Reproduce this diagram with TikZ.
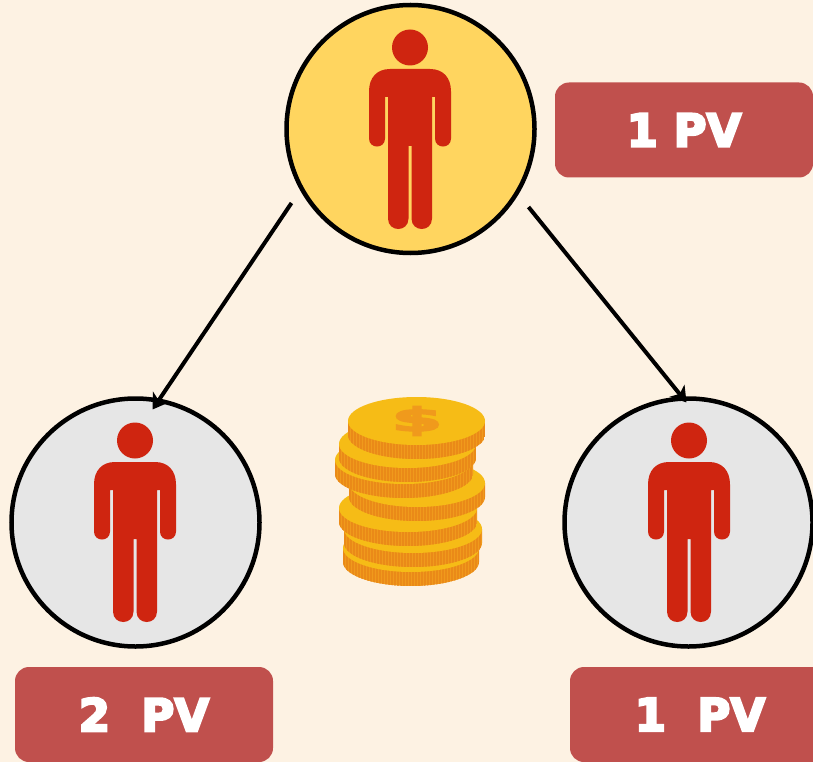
\documentclass[tikz,border=0pt]{standalone}
\usepackage{fontspec}
\setmainfont{DejaVu Sans}
\newfontfamily\heavyfont[FakeBold=5]{DejaVu Sans Bold}
\usetikzlibrary{arrows.meta}
\definecolor{pagebg}{HTML}{FDF2E3}
\definecolor{ringyellow}{HTML}{FFD55F}
\definecolor{ringgrey}{HTML}{E6E6E6}
\definecolor{personred}{HTML}{CF2510}
\definecolor{boxred}{HTML}{C0504D}
\definecolor{coinface}{HTML}{F6BC16}
\definecolor{coinside}{HTML}{F09A1C}
\definecolor{coinrib}{HTML}{EA8A18}
\tikzset{
  x=1pt,y=-1pt,
  ring/.style={circle,draw=black,line width=4.5pt,minimum size=248pt,inner sep=0pt,outer sep=0pt},
  pvbox/.style={rectangle,rounded corners=14pt,fill=boxred,text=white,minimum width=258pt,minimum height=95pt,inner sep=0pt,font=\fontsize{45}{50}\selectfont\heavyfont},
  link/.style={draw=black,line width=4pt,-{Stealth[length=15pt,width=19pt,inset=4pt]}},
  person/.pic={
    \fill[personred] (0,0) circle[radius=18pt];
    \fill[personred] (-20,21.5) -- (20,21.5)
      .. controls (33,21.5) and (41,30) .. (41,44) -- (41,91)
      .. controls (41,101.7) and (25,101.7) .. (25,91) -- (25,49.5) -- (22,49.5) -- (22,171)
      .. controls (22,185) and (1.5,185) .. (1.5,171) -- (1.5,98.5) -- (-1.5,98.5) -- (-1.5,171)
      .. controls (-1.5,185) and (-22,185) .. (-22,171) -- (-22,49.5) -- (-25,49.5) -- (-25,91)
      .. controls (-25,101.7) and (-41,101.7) .. (-41,91) -- (-41,44)
      .. controls (-41,30) and (-33,21.5) .. (-20,21.5) -- cycle;
  }
}
\begin{document}
\begin{tikzpicture}
\useasboundingbox (0,0) rectangle (813,762);
\fill[pagebg] (0,0) rectangle (813,762);
\node[ring,fill=ringyellow] (top) at (410.5,129) {};
\node[ring,fill=ringgrey] (left) at (135.5,522.5) {};
\node[ring,fill=ringgrey] (right) at (688.5,522.5) {};
\pic at (410,47.5) {person};
\pic at (135,440.5) {person};
\pic at (689,440.5) {person};
\draw[link] ([shift={(-119,74)}]top.center) -- ([shift={(17,-113)}]left.center);
\draw[link] ([shift={(118,78)}]top.center) -- ([shift={(-2,-120)}]right.center);
\node[pvbox] (boxtop) at (684,130) {1 PV};
\node[pvbox] (boxleft) at (144,714.5) {2\ \ PV};
\node[pvbox,minimum width=260pt] (boxright) at (700,714.5) {1\ \ PV};
% coins, bottom to top: centre x, half width, face centre y
\foreach \cx/\rx/\cy in {411/68/548,413/69/529,408/69/508,417/68/483,404/69/460,407.5/68.5/444,416.5/68.5/421}{
  \pgfmathsetmacro\xl{\cx-\rx}
  \pgfmathsetmacro\xr{\cx+\rx}
  \pgfmathsetmacro\yb{\cy+14}
  \pgfmathsetmacro\ye{\cy+38}
  \pgfmathsetmacro\kx{.5523*\rx}
  \pgfmathsetmacro\ky{\yb+.5523*24}
  \begin{scope}
    \path[clip] (\xl,\cy) -- (\xl,\yb) .. controls (\xl,\ky) and (\cx-\kx,\ye) .. (\cx,\ye)
      .. controls (\cx+\kx,\ye) and (\xr,\ky) .. (\xr,\yb) -- (\xr,\cy) -- cycle;
    \fill[coinside] (\xl,\cy) rectangle (\xr,\ye);
    \foreach \s in {1,4,...,139}{
      \draw[coinrib,line width=1.1pt] (\xl+\s,\cy) -- (\xl+\s,\ye);
    }
  \end{scope}
  \fill[coinface] (\cx,\cy) ellipse[x radius=\rx pt,y radius=24pt];
}
\node[text=coinside,inner sep=0pt,font=\fontsize{38}{42}\selectfont\heavyfont,xscale=1.9,yscale=.85] (dollar) at (417,421) {\$};
\end{tikzpicture}
\end{document}
